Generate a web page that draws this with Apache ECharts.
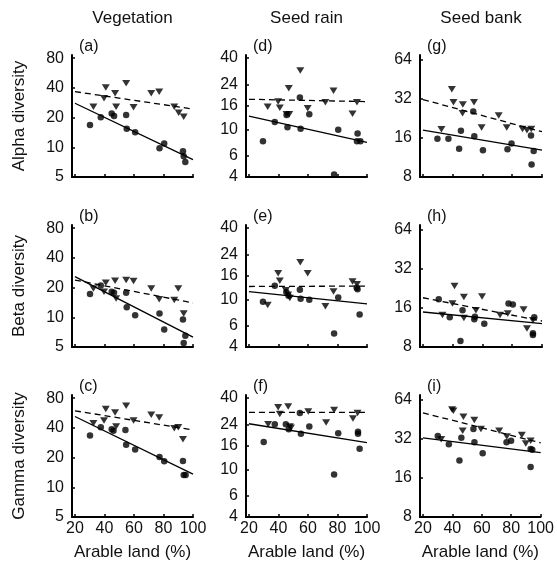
<!DOCTYPE html>
<html>
<head>
<meta charset="utf-8">
<script src="https://cdn.jsdelivr.net/npm/echarts@6/dist/echarts.min.js"></script>
<style>
  html, body { margin: 0; padding: 0; background: #fff; }
  #chart { width: 557px; height: 573px; }
</style>
</head>
<body>
<div id="chart"></div>
<script>
// labels
var colNames = ['Vegetation', 'Seed rain', 'Seed bank'];
var rowNames = ['Alpha diversity', 'Beta diversity', 'Gamma diversity'];
var panelTags = [['(a)', '(b)', '(c)'], ['(d)', '(e)', '(f)'], ['(g)', '(h)', '(i)']];

// ticks
var xTicks = [20, 40, 60, 80, 100];
var vegTicks = [5, 10, 20, 40, 80];
var rainTicks = [4, 6, 10, 16, 24, 40];
var bankTicks = [8, 16, 32, 64];

// regression lines are drawn between these x values
var fitX = [20, 100];

// Vegetation
var vegAlphaCirc = [[30.2,16.8],[37.5,20.1],[44.9,22],[46.5,20.7],[54.7,21.2],[55.1,15.4],[60.8,14.2],[77.3,9.8],[80.5,10.9],[93.2,9.1],[93.7,8.1],[94.8,7.1]];
var vegAlphaTri = [[32.5,25.8],[39.7,31.3],[40.9,40.2],[47.2,35.2],[47.9,25.8],[54.7,44.5],[59.7,25.4],[71.7,35.2],[77.1,36.6],[87.3,25.8],[90.3,22.4],[93.7,20.4]];
var vegAlphaFit = [27.9, 7.5];
var vegAlphaFitTri = [36.6, 24.4];

var vegBetaCirc = [[30.2,17.2],[37.5,21],[44.9,18.1],[46.5,17.7],[54.7,17.7],[55.1,12.6],[60.8,10.5],[77.3,10.9],[80.5,7.5],[93.2,9.5],[94.8,6.5],[93.7,5.5]];
var vegBetaTri = [[32.5,19.6],[39.7,18.1],[40.9,22.4],[47.2,23.5],[47.9,15.5],[54.7,23.8],[59.7,23.3],[71.7,19.6],[77.1,15.2],[87.3,15.0],[90,19.6],[93.7,10.9]];
var vegBetaFit = [25.8, 6.3];
var vegBetaFitTri = [23.8, 14.0];

var vegGammaCirc = [[30.2,33.4],[37.5,40.6],[44.9,38.8],[46.1,37.4],[54.2,38],[54.7,27],[60.8,24.2],[77.3,20.3],[80.5,18.4],[93.2,18.5],[93.7,13.3],[95,13.3]];
var vegGammaTri = [[32.5,44.5],[39.7,47.4],[40.9,62],[47.2,57.3],[47.9,41.2],[54.7,66.9],[59.7,47.4],[71.7,54.3],[77.1,51],[87.3,39.6],[90,40.5],[93.2,30.6]];
var vegGammaFit = [52.1, 13.6];
var vegGammaFitTri = [59.5, 38.1];

// Seed rain
var rainAlphaCirc = [[29.5,8.0],[37.5,11.6],[45.5,13.3],[46.1,10.5],[54.5,18.6],[55,10.2],[60.9,13.5],[77.7,4.2],[80.5,10.0],[93.6,9.3],[93.2,8.0],[95.5,8.0]];
var rainAlphaTri = [[32.7,15.6],[39.8,17.2],[40.9,15.3],[45.5,13.5],[47.3,13.5],[47,22.3],[54.8,31.4],[59.8,15.1],[71.8,17],[77.3,21.2],[90.2,13.6],[93.2,17]];
var rainAlphaFit = [13.0, 7.8];
var rainAlphaFitTri = [18.0, 17.2];

var rainBetaCirc = [[29.5,9.6],[37.5,13.1],[45.3,11.6],[46.8,10.8],[54.5,12.1],[55,10.2],[60.9,10],[77.7,5.2],[80.5,10.4],[93.6,12.2],[93,12.6],[95,7.5]];
var rainBetaTri = [[32.7,9.0],[39.8,16.7],[40.9,14.4],[45,12.0],[46.5,11.0],[47.7,10.3],[54.8,20.6],[59.8,16.7],[71.8,8.8],[77.3,11.7],[90.2,14.2],[93.2,13.5]];
var rainBetaFit = [11.7, 9.2];
var rainBetaFitTri = [12.9, 13.0];

var rainGammaCirc = [[30,17.1],[37.5,24.1],[45,24.1],[47,21.9],[54.5,29.9],[55.2,20],[60.9,23],[77.7,9.1],[80.5,20.2],[93.9,20.8],[93.9,20],[95,15]];
var rainGammaTri = [[33,24.1],[39.8,33.4],[40.9,29.3],[46.6,34],[47.7,23],[48.5,22.5],[60.2,30.8],[72.3,24.9],[77.7,31.7],[90.5,26.9],[93.6,29.9]];
var rainGammaFit = [24.3, 16.9];
var rainGammaFitTri = [30.3, 30.3];

// Seed bank
var bankAlphaCirc = [[29.7,15.8],[37.1,15.8],[44.3,13.2],[45.5,18.2],[53.8,25.6],[54.5,16.5],[60.3,12.9],[76.8,13.1],[79.5,14.5],[92.6,16.7],[94.4,12.7],[93,10.0]];
var bankAlphaTri = [[32.4,18.7],[39.4,38],[40.5,30.2],[46.8,29],[46.6,24.8],[54.3,30.2],[59.4,19.3],[70.9,23.9],[76.3,19.3],[86.9,18.8],[89.9,18.4],[92.8,18.8]];
var bankAlphaFit = [18.4, 12.9];
var bankAlphaFitTri = [31.7, 17.9];

var bankBetaCirc = [[30.6,18.7],[38,13.6],[46.6,15.4],[45.2,8.9],[54.9,13.7],[54.5,13.1],[61.2,12.1],[77.5,17.3],[80.4,17.0],[94.8,13.6],[93.9,10.2],[93.9,9.9]];
var bankBetaTri = [[33.1,14.1],[41.2,23.7],[39.8,17.3],[47.5,19.5],[47.5,13.4],[55.6,15.4],[59.7,19.6],[71.8,14.1],[77,14.5],[87.6,15.6],[89.9,11.1],[93.9,12.9]];
var bankBetaFit = [14.9, 12.1];
var bankBetaFitTri = [19.2, 12.7];

var bankGammaCirc = [[30.1,33.8],[37.6,29.1],[44.8,21.8],[46.1,32.8],[54.3,38.2],[55,30.2],[60.6,24.8],[76.8,30.2],[79.9,31.1],[93.2,26.8],[94.3,26.4],[93.2,19.5]];
var bankGammaTri = [[32.4,31.9],[39.8,54.1],[40.7,53],[47.5,47.5],[47,37.1],[54.9,44.8],[59.4,38.2],[71.8,37.1],[77,33.4],[87.2,34.3],[89.9,29.5],[93.2,31.1]];
var bankGammaFit = [32.7, 25.1];
var bankGammaFitTri = [51.0, 29.9];

var panels = [
  [
    [vegAlphaCirc, vegAlphaTri, vegAlphaFit, vegAlphaFitTri],
    [vegBetaCirc, vegBetaTri, vegBetaFit, vegBetaFitTri],
    [vegGammaCirc, vegGammaTri, vegGammaFit, vegGammaFitTri]
  ],
  [
    [rainAlphaCirc, rainAlphaTri, rainAlphaFit, rainAlphaFitTri],
    [rainBetaCirc, rainBetaTri, rainBetaFit, rainBetaFitTri],
    [rainGammaCirc, rainGammaTri, rainGammaFit, rainGammaFitTri]
  ],
  [
    [bankAlphaCirc, bankAlphaTri, bankAlphaFit, bankAlphaFitTri],
    [bankBetaCirc, bankBetaTri, bankBetaFit, bankBetaFitTri],
    [bankGammaCirc, bankGammaTri, bankGammaFit, bankGammaFitTri]
  ]
];
var yTicksByCol = [vegTicks, rainTicks, bankTicks];

// layout
var colLeft = [72, 246, 420];
var colWidth = [121, 121, 122];
var rowTop = [55, 225, 395];
var plotH = 122;
var yRange = [[5, 86], [4, 42.4], [8, 70]];
var font = '"Liberation Sans", Arial, sans-serif';
var ink = '#111';

var grids = [], xAxes = [], yAxes = [], series = [], graphics = [];

for (var c = 0; c < 3; c++) {
  graphics.push({
    type: 'text', x: colLeft[c] + colWidth[c] / 2, y: 18,
    style: { text: colNames[c], font: '17px ' + font, fill: ink, align: 'center', verticalAlign: 'middle' }
  });
  for (var r = 0; r < 3; r++) {
    var gi = grids.length;
    grids.push({ left: colLeft[c], top: rowTop[r], width: colWidth[c], height: plotH, containLabel: false });

    xAxes.push({
      type: 'value', gridIndex: gi, min: 18, max: 100,
      axisLine: { onZero: false, lineStyle: { color: '#000', width: 2 } },
      axisTick: { inside: true, length: 3, customValues: xTicks, lineStyle: { color: '#000', width: 1.5 } },
      axisLabel: { show: r === 2, customValues: xTicks, fontSize: 16, fontFamily: font, color: ink, margin: 4 },
      splitLine: { show: false },
      name: r === 2 ? 'Arable land (%)' : '',
      nameLocation: 'middle', nameGap: 27,
      nameTextStyle: { fontSize: 17, fontFamily: font, color: ink }
    });

    yAxes.push({
      type: 'log', logBase: 2, gridIndex: gi, min: yRange[c][0], max: yRange[c][1],
      axisLine: { show: true, lineStyle: { color: '#000', width: 2 } },
      axisTick: { show: true, inside: true, length: 3, customValues: yTicksByCol[c], lineStyle: { color: '#000', width: 1.5 } },
      axisLabel: { customValues: yTicksByCol[c], fontSize: 16, fontFamily: font, color: ink, margin: 8 },
      splitLine: { show: false },
      name: c === 0 ? rowNames[r] : '',
      nameLocation: 'middle', nameRotate: 90, nameGap: 44,
      nameTextStyle: { fontSize: 17, fontFamily: font, color: ink }
    });

    graphics.push({
      type: 'text', x: colLeft[c] + 7, y: rowTop[r] - 8,
      style: { text: panelTags[c][r], font: '16px ' + font, fill: ink, align: 'left', verticalAlign: 'middle' }
    });

    var p = panels[c][r];
    series.push({
      type: 'scatter', xAxisIndex: gi, yAxisIndex: gi, data: p[0],
      symbol: 'circle', symbolSize: 6.5, itemStyle: { color: '#000' }, silent: true
    });
    series.push({
      type: 'scatter', xAxisIndex: gi, yAxisIndex: gi, data: p[1],
      symbol: 'triangle', symbolRotate: 180, symbolSize: [8, 6.5], itemStyle: { color: '#000' }, silent: true
    });
    series.push({
      type: 'line', xAxisIndex: gi, yAxisIndex: gi,
      data: fitX.map(function (x, i) { return [x, p[2][i]]; }),
      symbol: 'none', lineStyle: { color: '#000', width: 1.3 }, silent: true
    });
    series.push({
      type: 'line', xAxisIndex: gi, yAxisIndex: gi,
      data: fitX.map(function (x, i) { return [x, p[3][i]]; }),
      symbol: 'none', lineStyle: { color: '#000', width: 1.3, type: [6, 4] }, silent: true
    });
  }
}

var chart = echarts.init(document.getElementById('chart'));
chart.setOption({
  animation: false,
  backgroundColor: '#fff',
  grid: grids,
  xAxis: xAxes,
  yAxis: yAxes,
  series: series,
  graphic: graphics
});
</script>
</body>
</html>
